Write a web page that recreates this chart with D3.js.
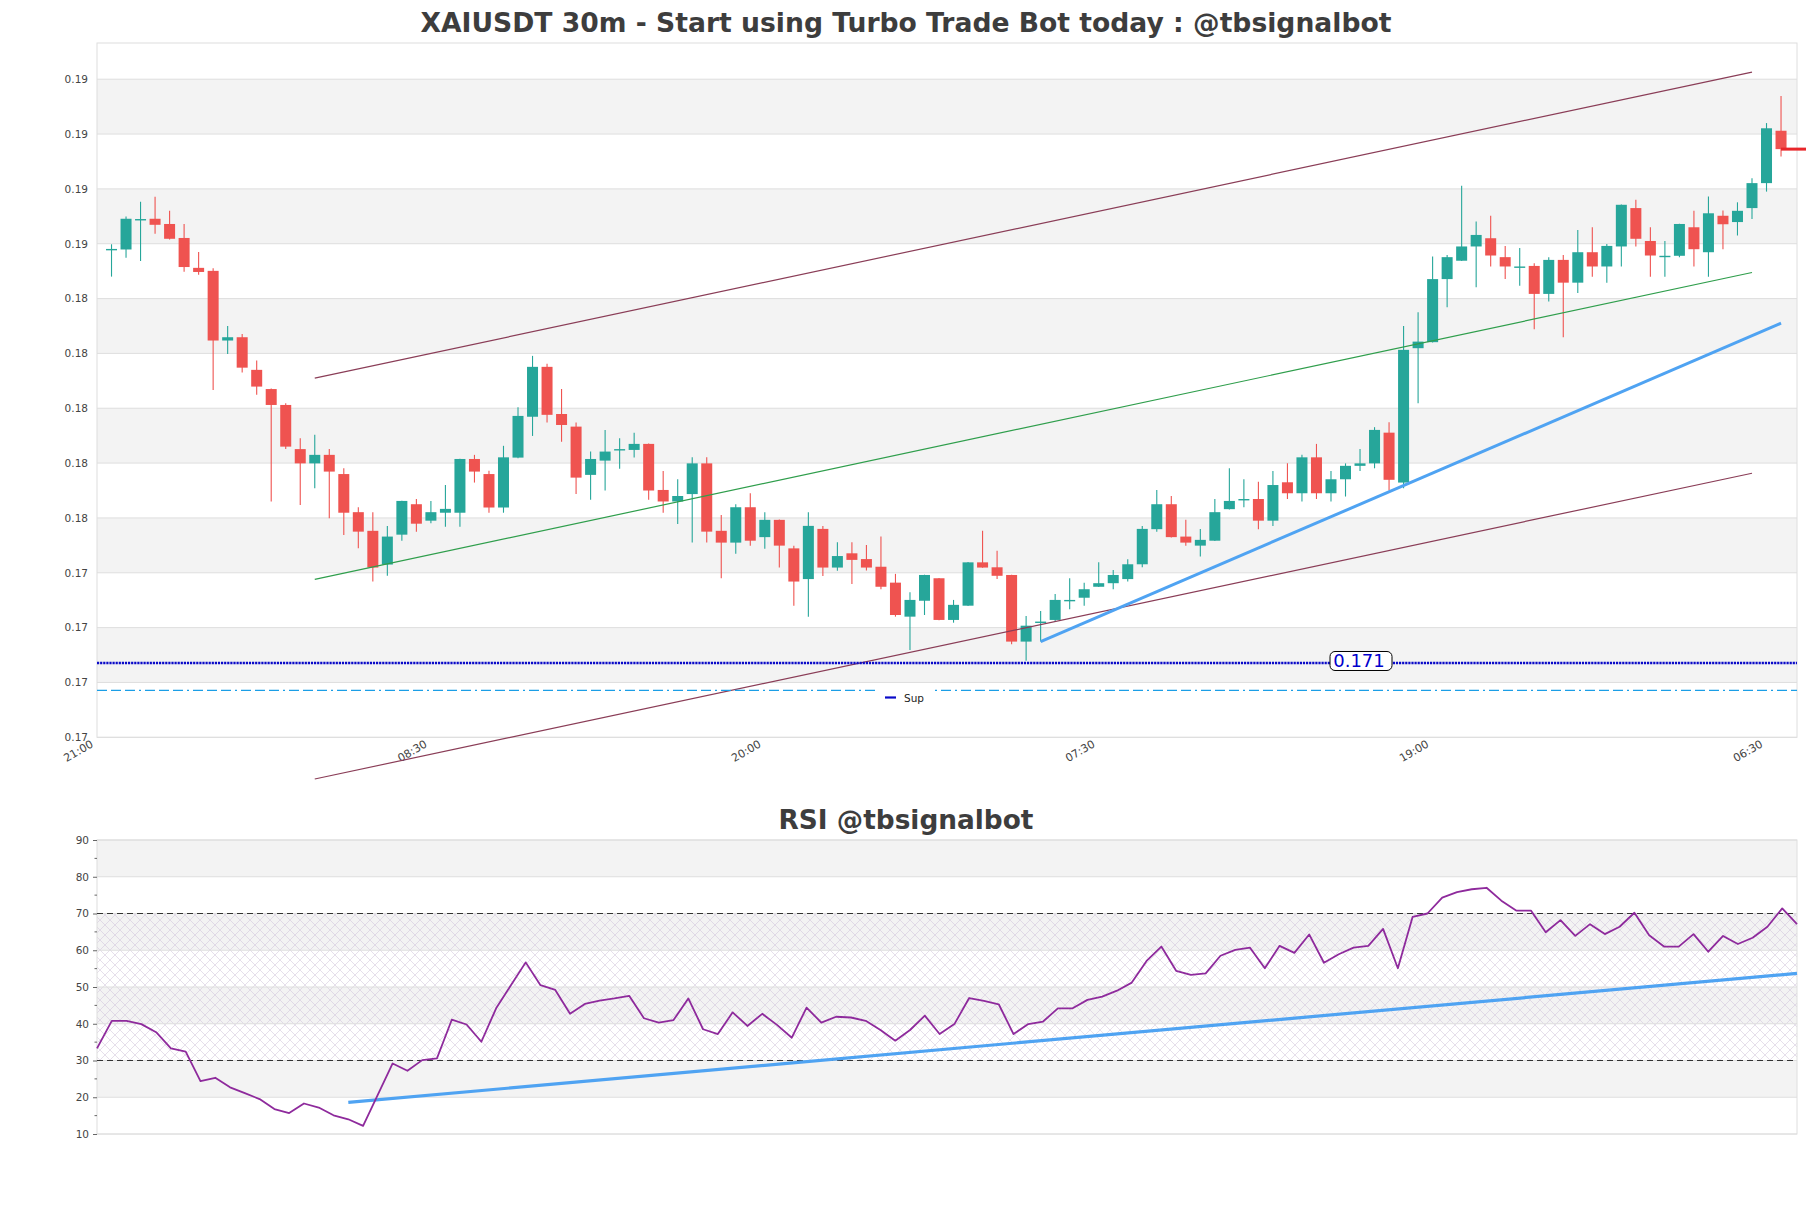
<!DOCTYPE html>
<html>
<head>
<meta charset="utf-8">
<script src="https://cdn.jsdelivr.net/npm/d3@7/dist/d3.min.js"></script>
<style>
html,body{margin:0;padding:0;background:#fff;}
svg{display:block;}
text{font-family:"DejaVu Sans",sans-serif;}
</style>
</head>
<body>
<svg id="chart" width="1811" height="1208"></svg>
<script>
// ---------------- DATA ----------------
const mainTitle = "XAIUSDT 30m - Start using Turbo Trade Bot today : @tbsignalbot";
const rsiTitle = "RSI @tbsignalbot";

const candleOpen = [
0.18580,0.18579,0.18689,0.18691,0.18672,0.18621,0.18512,0.18501,0.18247,0.18259,
0.18140,0.18070,0.18012,0.17851,0.17799,0.17830,0.17760,0.17621,0.17553,0.17430,
0.17539,0.17650,0.17590,0.17619,0.17619,0.17815,0.17760,0.17638,0.17820,0.17969,
0.18151,0.17979,0.17933,0.17757,0.17809,0.17850,0.17848,0.17870,0.17702,0.17660,
0.17687,0.17799,0.17553,0.17510,0.17639,0.17530,0.17593,0.17489,0.17377,0.17560,
0.17419,0.17471,0.17450,0.17422,0.17364,0.17240,0.17298,0.17380,0.17228,0.17280,
0.17438,0.17420,0.17392,0.17149,0.17219,0.17228,0.17299,0.17309,0.17349,0.17362,
0.17377,0.17431,0.17559,0.17650,0.17532,0.17499,0.17517,0.17632,0.17667,0.17669,
0.17590,0.17730,0.17690,0.17821,0.17690,0.17741,0.17790,0.17799,0.17911,0.17729,
0.18219,0.18241,0.18471,0.18538,0.18590,0.18620,0.18551,0.18515,0.18519,0.18417,
0.18541,0.18458,0.18569,0.18517,0.18590,0.18730,0.18610,0.18554,0.18556,0.18660,
0.18569,0.18702,0.18679,0.18730,0.18821,0.19012];

const candleHigh = [
0.18598,0.18699,0.18753,0.18771,0.18720,0.18672,0.18570,0.18511,0.18300,0.18271,
0.18174,0.18072,0.18018,0.17891,0.17903,0.17851,0.17781,0.17639,0.17621,0.17571,
0.17663,0.17669,0.17662,0.17720,0.17816,0.17830,0.17772,0.17863,0.18004,0.18191,
0.18162,0.18070,0.17948,0.17842,0.17921,0.17891,0.17911,0.17871,0.17771,0.17741,
0.17821,0.17821,0.17611,0.17650,0.17690,0.17621,0.17594,0.17499,0.17621,0.17571,
0.17511,0.17511,0.17501,0.17532,0.17396,0.17329,0.17393,0.17381,0.17301,0.17439,
0.17553,0.17480,0.17393,0.17242,0.17261,0.17323,0.17380,0.17364,0.17438,0.17410,
0.17449,0.17571,0.17702,0.17680,0.17593,0.17560,0.17669,0.17781,0.17741,0.17732,
0.17771,0.17799,0.17830,0.17870,0.17771,0.17799,0.17851,0.17931,0.17949,0.18300,
0.18350,0.18553,0.18559,0.18811,0.18681,0.18702,0.18592,0.18584,0.18529,0.18551,
0.18559,0.18650,0.18660,0.18599,0.18743,0.18760,0.18660,0.18610,0.18673,0.18720,
0.18772,0.18721,0.18751,0.18839,0.19040,0.19139];

const candleLow = [
0.18480,0.18549,0.18537,0.18636,0.18615,0.18498,0.18487,0.18067,0.18198,0.18130,
0.18049,0.17660,0.17851,0.17647,0.17708,0.17599,0.17538,0.17489,0.17368,0.17389,
0.17517,0.17550,0.17581,0.17568,0.17568,0.17729,0.17619,0.17619,0.17818,0.17899,
0.17948,0.17878,0.17687,0.17666,0.17700,0.17779,0.17820,0.17666,0.17619,0.17578,
0.17510,0.17510,0.17380,0.17469,0.17499,0.17488,0.17419,0.17280,0.17240,0.17388,
0.17407,0.17359,0.17408,0.17340,0.17240,0.17118,0.17246,0.17227,0.17218,0.17279,
0.17418,0.17377,0.17139,0.17079,0.17149,0.17222,0.17267,0.17280,0.17348,0.17340,
0.17368,0.17420,0.17550,0.17529,0.17499,0.17459,0.17516,0.17631,0.17639,0.17559,
0.17571,0.17669,0.17660,0.17669,0.17660,0.17678,0.17771,0.17781,0.17700,0.17708,
0.18018,0.18240,0.18368,0.18537,0.18441,0.18517,0.18471,0.18447,0.18288,0.18389,
0.18259,0.18420,0.18480,0.18458,0.18517,0.18590,0.18480,0.18480,0.18551,0.18517,
0.18480,0.18580,0.18630,0.18690,0.18790,0.18918];

const candleClose = [
0.18581,0.18691,0.18690,0.18669,0.18618,0.18515,0.18497,0.18247,0.18259,0.18148,
0.18079,0.18012,0.17860,0.17799,0.17830,0.17769,0.17619,0.17550,0.17419,0.17532,
0.17662,0.17579,0.17621,0.17633,0.17815,0.17769,0.17638,0.17821,0.17972,0.18151,
0.17976,0.17939,0.17747,0.17815,0.17842,0.17851,0.17870,0.17700,0.17660,0.17680,
0.17799,0.17550,0.17510,0.17639,0.17517,0.17593,0.17499,0.17368,0.17571,0.17419,
0.17461,0.17447,0.17419,0.17349,0.17246,0.17301,0.17392,0.17228,0.17283,0.17438,
0.17419,0.17389,0.17149,0.17207,0.17222,0.17301,0.17301,0.17340,0.17362,0.17392,
0.17431,0.17560,0.17650,0.17530,0.17510,0.17520,0.17621,0.17662,0.17669,0.17590,
0.17720,0.17690,0.17821,0.17690,0.17741,0.17790,0.17799,0.17921,0.17739,0.18213,
0.18243,0.18471,0.18551,0.18590,0.18632,0.18557,0.18517,0.18517,0.18417,0.18541,
0.18458,0.18569,0.18517,0.18592,0.18742,0.18618,0.18557,0.18556,0.18672,0.18580,
0.18711,0.18671,0.18720,0.18821,0.19021,0.18945];

const rsiValues = [
33.3,40.8,40.8,39.9,37.7,33.3,32.4,24.4,25.3,22.7,
21.1,19.5,16.8,15.7,18.3,17.2,15.1,14.0,12.2,20.7,
29.2,27.2,30.1,30.6,41.1,39.8,35.1,44.2,50.5,56.7,
50.5,49.2,42.7,45.4,46.3,46.9,47.6,41.5,40.3,41.0,
46.9,38.5,37.2,43.1,39.4,42.7,39.7,36.2,44.4,40.3,
41.9,41.7,40.8,38.3,35.4,38.3,42.2,37.2,39.9,47.0,
46.2,45.3,37.2,39.9,40.6,44.2,44.2,46.5,47.4,49.0,
51.2,57.1,61.0,54.4,53.3,53.7,58.5,60.1,60.7,55.1,
61.2,59.3,64.3,56.6,58.9,60.7,61.2,65.8,55.1,69.1,
70.0,74.3,75.8,76.6,77.0,73.5,70.8,70.8,64.9,68.2,
63.9,67.1,64.4,66.4,70.2,64.1,61.0,61.0,64.4,59.6,
63.9,61.7,63.4,66.4,71.4,67.1];

const xTickIndex = [-1, 22, 45, 68, 91, 114];
const xTickLabels = ["21:00", "08:30", "20:00", "07:30", "19:00", "06:30"];
const priceTicks = [0.168,0.170,0.172,0.174,0.176,0.178,0.180,0.182,0.184,0.186,0.188,0.190,0.192];
const rsiTicks = [10,20,30,40,50,60,70,80,90];
const rsiMinorTicks = [15,25,35,45,55,65,75,85];
const rsiLevels = [30, 70];

const supportLevel = 0.17071;
const supportLabel = "0.171";
const legendLabel = "Sup";
const lowerDashLevel = 0.16971;

const channelUpper = [[14, 0.18110], [113, 0.19226]];
const channelLower = [[14, 0.16648], [113, 0.17763]];
const channelMid   = [[14, 0.17376], [113, 0.18495]];
const supportTrend = [[64, 0.17149], [115, 0.18310]];
const rsiTrend     = [[17, 18.6], [115, 53.7]];

// ---------------- DRAWING ----------------
const svg = d3.select("#chart");
const P = {l: 97, r: 1797, t: 43, b: 737.3};
const R = {l: 97, r: 1797, t: 840, b: 1134};

const x = d3.scaleLinear().domain([-1, 116.1]).range([P.l, P.r]);
const y = d3.scaleLinear().domain([0.168, 0.19332]).range([P.b, P.t]);
const xr = d3.scaleLinear().domain([0, rsiValues.length - 1]).range([R.l, R.r]);
const yr = d3.scaleLinear().domain([10, 90]).range([R.b, R.t]);

const GRID = "#dedede", BAND = "#f3f3f3", TXT = "#444";
const UP = "#26a69a", DOWN = "#ef5350";

const defs = svg.append("defs");
const pat = defs.append("pattern").attr("id", "hatch")
  .attr("width", 10).attr("height", 10).attr("patternUnits", "userSpaceOnUse");
pat.append("path").attr("d", "M0,0L10,10M10,0L0,10M-1,9L1,11M9,-1L11,1")
  .attr("stroke", "#cdbfd8").attr("stroke-width", 0.6).attr("fill", "none");

// titles
function fitTitle(str, cx, baseline, width) {
  const t = svg.append("text").text(str).attr("x", cx).attr("y", baseline)
    .attr("text-anchor", "middle").attr("font-weight", "bold")
    .attr("font-size", 26).attr("fill", "#3d3d3d");
  const w = t.node().getComputedTextLength();
  t.attr("font-size", 26 * width / w);
}
fitTitle(mainTitle, 906, 32, 971);
fitTitle(rsiTitle, 906, 829, 255);

// ---- main panel ----
const gMain = svg.append("g");
gMain.append("rect").attr("x", P.l).attr("y", P.t).attr("width", P.r - P.l)
  .attr("height", P.b - P.t).attr("fill", "#fff");
priceTicks.slice(0, -1).forEach((v, k) => {
  if (k % 2 === 1) {
    gMain.append("rect").attr("x", P.l).attr("width", P.r - P.l)
      .attr("y", y(priceTicks[k + 1])).attr("height", y(v) - y(priceTicks[k + 1]))
      .attr("fill", BAND);
  }
});
gMain.selectAll("line.grid").data(priceTicks).enter().append("line")
  .attr("x1", P.l).attr("x2", P.r).attr("y1", d => y(d)).attr("y2", d => y(d))
  .attr("stroke", GRID).attr("stroke-width", 1);
gMain.append("rect").attr("x", P.l).attr("y", P.t).attr("width", P.r - P.l)
  .attr("height", P.b - P.t).attr("fill", "none").attr("stroke", GRID);

// y axis labels
const yAxis = d3.axisLeft(y).tickValues(priceTicks).tickFormat(d3.format(".2f"))
  .tickSize(0).tickPadding(9);
const gy = svg.append("g").attr("transform", `translate(${P.l},0)`).call(yAxis);
gy.select(".domain").remove();
gy.selectAll("text").attr("fill", TXT).attr("font-size", 10.5)
  .attr("font-family", "DejaVu Sans");

// x labels
svg.append("g").selectAll("text").data(xTickIndex).enter().append("text")
  .attr("transform", d => `translate(${x(d) - 3},${P.b + 9}) rotate(-30)`)
  .attr("text-anchor", "end").attr("font-size", 11).attr("fill", TXT)
  .text((d, i) => xTickLabels[i]);

// candles
const idx = d3.range(candleOpen.length);
const bw = 11;
const gC = svg.append("g");
gC.selectAll("line.wick").data(idx).enter().append("line")
  .attr("x1", i => x(i)).attr("x2", i => x(i))
  .attr("y1", i => y(candleHigh[i])).attr("y2", i => y(candleLow[i]))
  .attr("stroke", i => candleClose[i] >= candleOpen[i] ? UP : DOWN)
  .attr("stroke-width", 1.1);
gC.selectAll("rect.body").data(idx).enter().append("rect")
  .attr("x", i => x(i) - bw / 2).attr("width", bw)
  .attr("y", i => y(Math.max(candleOpen[i], candleClose[i])))
  .attr("height", i => Math.max(1.4, Math.abs(y(candleOpen[i]) - y(candleClose[i]))))
  .attr("fill", i => candleClose[i] >= candleOpen[i] ? UP : DOWN);

// trend lines
const lineP = d3.line().x(d => x(d[0])).y(d => y(d[1]));
svg.append("path").attr("d", lineP(channelUpper)).attr("stroke", "#8a3d57").attr("stroke-width", 1.2).attr("fill", "none");
svg.append("path").attr("d", lineP(channelLower)).attr("stroke", "#8a3d57").attr("stroke-width", 1.2).attr("fill", "none");
svg.append("path").attr("d", lineP(channelMid)).attr("stroke", "#2f9e4c").attr("stroke-width", 1.2).attr("fill", "none");
svg.append("path").attr("d", lineP(supportTrend)).attr("stroke", "#4fa3f2").attr("stroke-width", 3).attr("fill", "none");

// support (dotted navy)
svg.append("line").attr("x1", P.l).attr("x2", P.r)
  .attr("y1", y(supportLevel)).attr("y2", y(supportLevel))
  .attr("stroke", "#0a0ac8").attr("stroke-width", 2.4).attr("stroke-dasharray", "2.2,0.9");
// lower dash-dot line
svg.append("line").attr("x1", P.l).attr("x2", P.r)
  .attr("y1", y(lowerDashLevel)).attr("y2", y(lowerDashLevel))
  .attr("stroke", "#1b9ee6").attr("stroke-width", 1.4).attr("stroke-dasharray", "10,4,10,4,10,4,2,4");

// support label
const sy = y(supportLevel);
svg.append("rect").attr("x", 1330).attr("y", sy - 11.5).attr("width", 62).attr("height", 19)
  .attr("rx", 5).attr("fill", "#fff").attr("stroke", "#000").attr("stroke-width", 1);
svg.append("text").attr("x", 1359).attr("y", sy + 4.5).attr("text-anchor", "middle")
  .attr("font-size", 18).attr("fill", "#0000cc").text(supportLabel);

// legend
const ly = 697.5;
svg.append("rect").attr("x", 879).attr("y", 684).attr("width", 56).attr("height", 24).attr("fill", "#fff");
svg.append("line").attr("x1", 885).attr("x2", 896).attr("y1", ly).attr("y2", ly)
  .attr("stroke", "#0a0ac8").attr("stroke-width", 2.2);
svg.append("text").attr("x", 904).attr("y", ly + 4).attr("font-size", 10.5)
  .attr("fill", "#222").text(legendLabel);

// last price marker
const li = candleClose.length - 1;
svg.append("line").attr("x1", x(li)).attr("x2", x(li) + 25)
  .attr("y1", y(candleClose[li])).attr("y2", y(candleClose[li]))
  .attr("stroke", "#e8262a").attr("stroke-width", 3);

// ---- RSI panel ----
const gR = svg.append("g");
gR.append("rect").attr("x", R.l).attr("y", R.t).attr("width", R.r - R.l)
  .attr("height", R.b - R.t).attr("fill", "#fff");
rsiTicks.slice(0, -1).forEach((v, k) => {
  if (k % 2 === 1) {
    gR.append("rect").attr("x", R.l).attr("width", R.r - R.l)
      .attr("y", yr(rsiTicks[k + 1])).attr("height", yr(v) - yr(rsiTicks[k + 1]))
      .attr("fill", BAND);
  }
});
gR.append("rect").attr("x", R.l).attr("width", R.r - R.l)
  .attr("y", yr(rsiLevels[1])).attr("height", yr(rsiLevels[0]) - yr(rsiLevels[1]))
  .attr("fill", "url(#hatch)").attr("opacity", 0.85);
gR.selectAll("line.g").data(rsiTicks).enter().append("line")
  .attr("x1", R.l).attr("x2", R.r).attr("y1", d => yr(d)).attr("y2", d => yr(d))
  .attr("stroke", GRID);
gR.append("rect").attr("x", R.l).attr("y", R.t).attr("width", R.r - R.l)
  .attr("height", R.b - R.t).attr("fill", "none").attr("stroke", GRID);
rsiLevels.forEach(v => {
  gR.append("line").attr("x1", R.l).attr("x2", R.r).attr("y1", yr(v)).attr("y2", yr(v))
    .attr("stroke", "#333").attr("stroke-width", 1.1).attr("stroke-dasharray", "6,4");
});

// RSI axis
const rAxis = d3.axisLeft(yr).tickValues(rsiTicks).tickSize(4).tickPadding(4);
const gra = svg.append("g").attr("transform", `translate(${R.l},0)`).call(rAxis);
gra.select(".domain").remove();
gra.selectAll("line").attr("stroke", "#666");
gra.selectAll("text").attr("fill", TXT).attr("font-size", 10.5).attr("font-family", "DejaVu Sans");
svg.append("g").selectAll("line").data(rsiMinorTicks).enter().append("line")
  .attr("x1", R.l - 2.5).attr("x2", R.l).attr("y1", d => yr(d)).attr("y2", d => yr(d))
  .attr("stroke", "#666");

// RSI trend
const lineR = d3.line().x(d => xr(d[0])).y(d => yr(d[1]));
svg.append("path").attr("d", lineR(rsiTrend)).attr("stroke", "#4fa3f2")
  .attr("stroke-width", 3.2).attr("fill", "none");
// RSI line
svg.append("path").attr("d", d3.line().x((d, i) => xr(i)).y(d => yr(d))(rsiValues))
  .attr("stroke", "#8e2a9c").attr("stroke-width", 1.8).attr("fill", "none")
  .attr("stroke-linejoin", "round");
</script>
</body>
</html>
